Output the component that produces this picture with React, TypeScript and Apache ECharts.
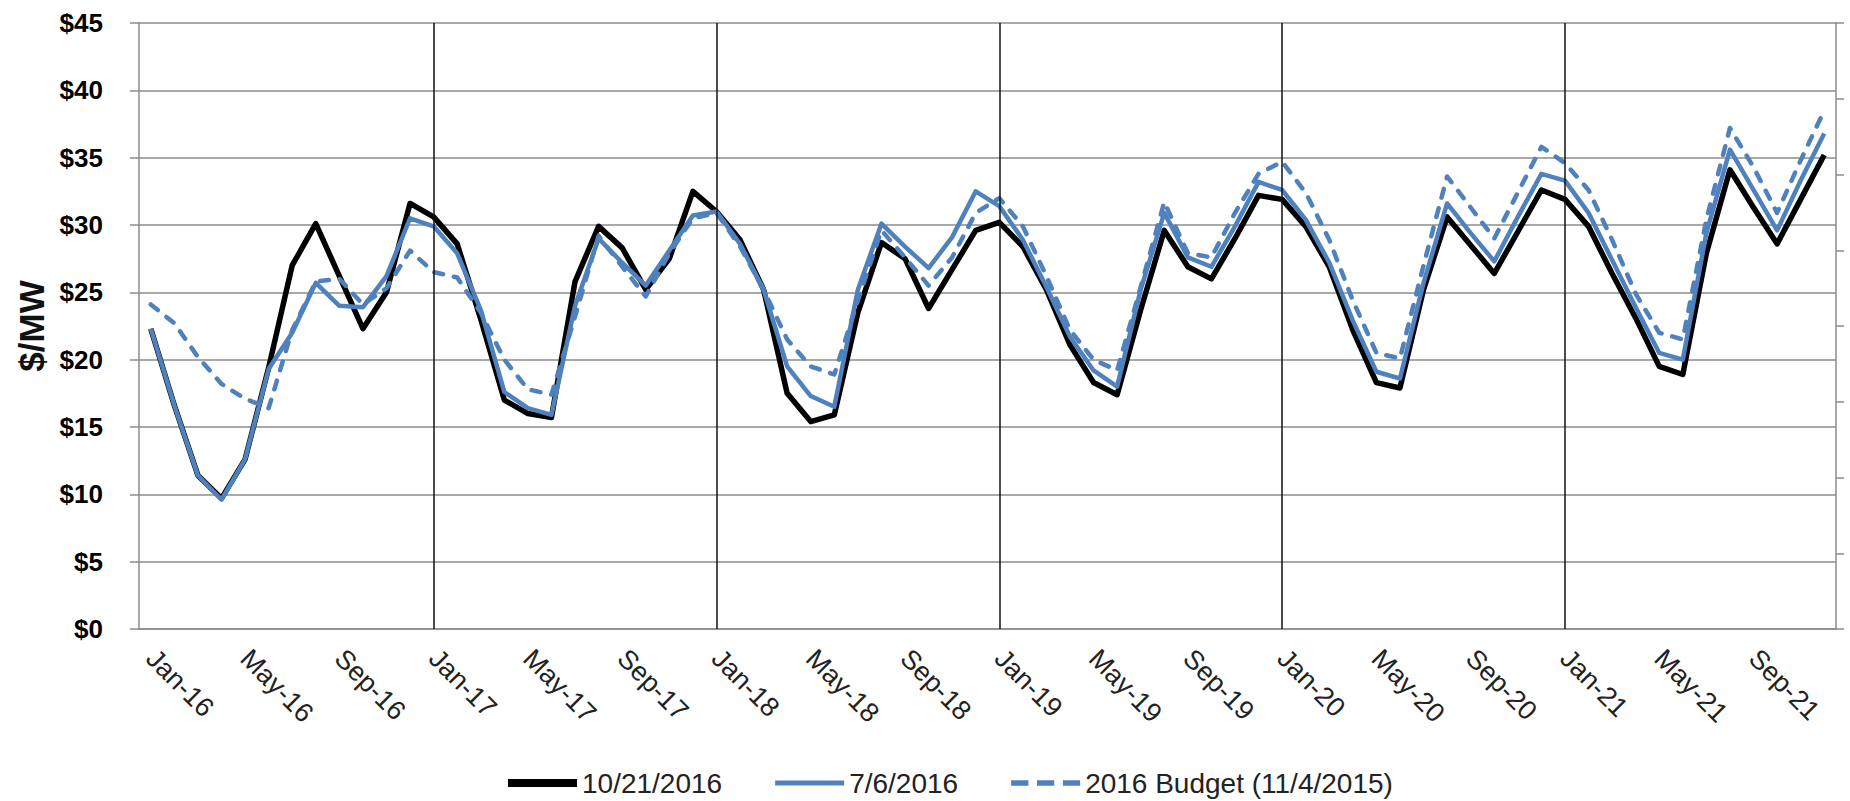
import React, { useEffect, useRef } from "react";
import * as echarts from "echarts";

const MONTHS = ["Jan", "Feb", "Mar", "Apr", "May", "Jun", "Jul", "Aug", "Sep", "Oct", "Nov", "Dec"];
const YEARS = ["16", "17", "18", "19", "20", "21"];
const categories: string[] = YEARS.flatMap((y) => MONTHS.map((m) => `${m}-${y}`));
const yearStarts = ["Jan-17", "Jan-18", "Jan-19", "Jan-20", "Jan-21"];

const SERIES_NAMES = ["10/21/2016", "7/6/2016", "2016 Budget (11/4/2015)"];

const curve20161021 = [
  22.3, 16.6, 11.4, 9.7, 12.6, 19.4, 27.0, 30.1, 26.2, 22.3, 25.0, 31.6,
  30.6, 28.6, 23.0, 17.0, 16.0, 15.7, 25.8, 29.9, 28.3, 25.2, 27.5, 32.5,
  31.0, 28.9, 25.2, 17.5, 15.4, 15.9, 23.5, 28.7, 27.5, 23.8, 26.7, 29.6,
  30.2, 28.4, 25.2, 21.1, 18.3, 17.4, 23.7, 29.6, 26.9, 26.0, 29.0, 32.2,
  31.9, 29.9, 26.9, 22.2, 18.3, 17.9, 25.2, 30.6, 28.5, 26.4, 29.5, 32.6,
  31.9, 29.9, 26.4, 23.1, 19.5, 18.9, 27.9, 34.1, 31.3, 28.6, 31.9, 35.2,
];

const curve20160706 = [
  22.3, 16.6, 11.4, 9.6, 12.6, 19.3, 22.0, 25.7, 24.0, 23.9, 26.2, 30.5,
  29.9, 27.9, 23.7, 17.6, 16.4, 15.9, 24.0, 29.0, 27.2, 25.5, 28.1, 30.7,
  31.0, 28.6, 25.2, 19.5, 17.3, 16.5, 25.2, 30.1, 28.4, 26.8, 29.1, 32.5,
  31.4, 28.9, 25.4, 21.7, 19.2, 18.0, 25.2, 30.9, 27.6, 26.9, 29.9, 33.2,
  32.6, 30.4, 27.2, 22.9, 19.1, 18.6, 25.7, 31.6, 29.4, 27.3, 30.6, 33.8,
  33.3, 30.9, 27.4, 23.9, 20.5, 20.0, 29.4, 35.6, 32.6, 29.6, 33.3, 36.8,
];

const budget2016 = [
  24.1, 22.7, 20.2, 18.2, 17.1, 16.4, 22.2, 25.8, 26.0, 24.1, 25.3, 28.1,
  26.5, 26.1, 23.5, 20.0, 17.8, 17.4, 23.2, 29.2, 26.9, 24.7, 27.9, 30.5,
  30.9, 28.4, 25.2, 21.5, 19.5, 18.9, 24.4, 29.6, 27.6, 25.5, 27.6, 30.9,
  32.0, 29.9, 26.2, 22.2, 20.0, 19.2, 25.4, 31.7, 27.9, 27.6, 30.9, 33.8,
  34.7, 32.4, 28.9, 24.4, 20.5, 20.1, 27.0, 33.6, 31.3, 29.0, 32.4, 35.8,
  34.6, 32.6, 28.9, 24.9, 22.0, 21.5, 30.4, 37.2, 34.3, 30.9, 34.8, 38.5,
];

const BLUE = "#4f81bd";
const GRID_GRAY = "#8c8c8c";
const FONT = "Liberation Sans";

const ICON_BLACK = "path://M0,0H69V8H0Z";
const ICON_BLUE = "path://M0,0H69V5H0Z";
const ICON_DASH = "path://M0,0H16V5H0Z M24,0H40V5H24Z M48,0H64V5H48Z";

export default function App() {
  const ref = useRef<HTMLDivElement>(null);

  useEffect(() => {
    if (!ref.current) return;
    const chart = echarts.init(ref.current, undefined, { renderer: "svg" });
    const axisLineStyle = { color: GRID_GRAY, width: 1.5 };
    chart.setOption({
      animation: false,
      backgroundColor: "#ffffff",
      textStyle: { fontFamily: FONT },
      grid: { left: 139, right: 14, top: 23, bottom: 172, containLabel: false },
      legend: {
        left: 503,
        top: 764,
        itemWidth: 69,
        itemHeight: 14,
        itemGap: 53,
        symbolKeepAspect: true,
        textStyle: { fontSize: 28, color: "#222", fontFamily: FONT },
        data: [
          { name: SERIES_NAMES[0], icon: ICON_BLACK },
          { name: SERIES_NAMES[1], icon: ICON_BLUE },
          { name: SERIES_NAMES[2], icon: ICON_DASH },
        ],
      },
      xAxis: {
        type: "category",
        data: categories,
        boundaryGap: true,
        axisLine: { lineStyle: axisLineStyle },
        axisTick: { interval: 3, length: 10, lineStyle: axisLineStyle },
        axisLabel: { interval: 3, rotate: -45, fontSize: 27, color: "#222", margin: 25, fontFamily: FONT },
        splitLine: { show: false },
      },
      yAxis: [
        {
          type: "value",
          min: 0,
          max: 45,
          interval: 5,
          name: "$/MW",
          nameLocation: "middle",
          nameGap: 90,
          nameTextStyle: { fontSize: 35, color: "#111", fontFamily: FONT, fontWeight: "bold" },
          axisLine: { show: true, lineStyle: axisLineStyle },
          axisTick: { show: true, length: 9, lineStyle: axisLineStyle },
          axisLabel: {
            formatter: (v: number) => "$" + v,
            fontWeight: "bold",
            fontSize: 26,
            color: "#000",
            margin: 36,
            fontFamily: FONT,
          },
          splitLine: { show: true, lineStyle: { color: GRID_GRAY, width: 1.5 } },
        },
        {
          type: "value",
          position: "right",
          min: 0,
          max: 8,
          interval: 1,
          axisLine: { show: true, lineStyle: axisLineStyle },
          axisTick: { show: true, length: 8, lineStyle: axisLineStyle },
          axisLabel: { show: false },
          splitLine: { show: false },
        },
      ],
      series: [
        {
          name: SERIES_NAMES[0],
          type: "line",
          data: curve20161021,
          symbol: "none",
          showSymbol: false,
          lineStyle: { color: "#000", width: 5.5, join: "round" },
          itemStyle: { color: "#000" },
          markLine: {
            silent: true,
            symbol: ["none", "none"],
            label: { show: false },
            lineStyle: { color: "#111", width: 1.5, type: "solid" },
            data: yearStarts.map((c) => ({ xAxis: c })),
          },
        },
        {
          name: SERIES_NAMES[1],
          type: "line",
          data: curve20160706,
          symbol: "none",
          showSymbol: false,
          lineStyle: { color: BLUE, width: 4.5, join: "round" },
          itemStyle: { color: BLUE },
        },
        {
          name: SERIES_NAMES[2],
          type: "line",
          data: budget2016,
          symbol: "none",
          showSymbol: false,
          lineStyle: { color: BLUE, width: 4.5, type: [9, 11], cap: "round", join: "round" },
          itemStyle: { color: BLUE },
        },
      ],
    });
    return () => chart.dispose();
  }, []);

  return (
    <div
      ref={ref}
      style={{ position: "absolute", left: 0, top: 0, width: 1850, height: 801 }}
    />
  );
}
